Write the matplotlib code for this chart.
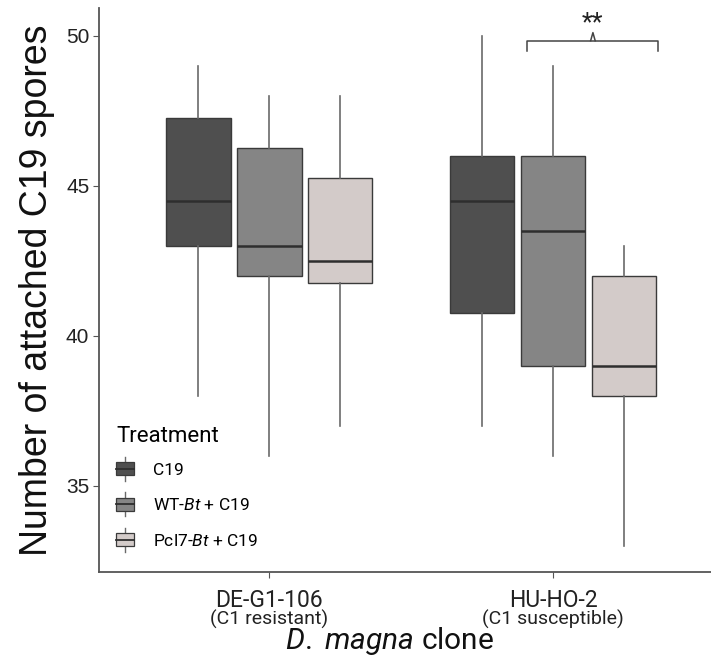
import matplotlib
matplotlib.use("Agg")
import matplotlib.pyplot as plt
from matplotlib.patches import Rectangle
from matplotlib.lines import Line2D
from matplotlib.legend_handler import HandlerBase
from matplotlib.transforms import blended_transform_factory

plt.rcParams['font.family'] = ['Roboto', 'DejaVu Sans']
plt.rcParams['mathtext.fontset'] = 'custom'
plt.rcParams['mathtext.rm'] = 'Roboto'
plt.rcParams['mathtext.it'] = 'Roboto:italic'

# ---- data ----
clones = ["DE-G1-106", "HU-HO-2"]
clone_notes = ["(C1 resistant)", "(C1 susceptible)"]
treatments = ["C19", "WT-Bt + C19", "Pcl7-Bt + C19"]
treatment_labels = ["C19", "WT-$\\it{Bt}$ + C19", "Pcl7-$\\it{Bt}$ + C19"]
colors = ["#4f4f4f", "#858585", "#d3cbc9"]

# per clone, per treatment
whislo = [[38, 36, 37], [37, 36, 33]]
q1 = [[43, 42, 41.75], [40.75, 39, 38]]
med = [[44.5, 43, 42.5], [44.5, 43.5, 39]]
q3 = [[47.25, 46.25, 45.25], [46, 46, 42]]
whishi = [[49, 48, 48], [50, 49, 43]]

sig_label = "**"

fig = plt.figure(figsize=(7.11, 6.62), dpi=100)
ax = fig.add_axes([99/711, 90/662, 1 - 99/711, (572-8)/662])

dodge = 0.25
bw = 0.227
for ci in range(len(clones)):
    for ti in range(len(treatments)):
        stats = [dict(med=med[ci][ti], q1=q1[ci][ti], q3=q3[ci][ti],
                      whislo=whislo[ci][ti], whishi=whishi[ci][ti], fliers=[])]
        pos = ci + 1 + (ti - 1) * dodge
        ax.bxp(stats, positions=[pos], widths=bw, patch_artist=True,
               showcaps=False, showfliers=False,
               boxprops=dict(facecolor=colors[ti], edgecolor="#3a3a3a", linewidth=1.0),
               whiskerprops=dict(color="#6a6a6a", linewidth=1.2),
               medianprops=dict(color="#2e2e2e", linewidth=1.8),
               manage_ticks=False, zorder=2)

ax.set_xlim(0.4, 2.556)
ax.set_ylim(32.13, 50.92)
ax.set_yticks([35, 40, 45, 50])
ax.set_yticklabels(["35", "40", "45", "50"], fontsize=15, family=['Liberation Sans', 'DejaVu Sans'], color="#222222")
ax.set_xticks([1, 2])
ax.set_xticklabels(clones, fontsize=16.5, color="#222222")
ax.tick_params(axis='y', length=4, width=0.8, color="#555555", pad=3)
ax.tick_params(axis='x', length=4, width=0.8, color="#555555", pad=8)
for sp in ["top", "right"]:
    ax.spines[sp].set_visible(False)
for sp in ["left", "bottom"]:
    ax.spines[sp].set_color("#555555")
    ax.spines[sp].set_linewidth(1.3)

trans = blended_transform_factory(ax.transData, ax.transAxes)
for i, note in enumerate(clone_notes):
    ax.text(i + 1, -(619.5 - 572) / 564, note, transform=trans, ha="center", va="center",
            fontsize=14, color="#222222")

ax.text((390 - 99) / 612, -(641 - 572) / 564, "$\\it{D.}$ $\\it{magna}$ clone",
        transform=ax.transAxes, ha="center", va="center", fontsize=21.5, color="#111111")
ax.set_ylabel("Number of attached C19 spores", fontsize=27, labelpad=8,
              family=['Liberation Sans', 'DejaVu Sans'], color="#111111")

# significance bracket
bx = [1.908, 2.37]
by = 49.83
ax.plot([bx[0], bx[0], bx[1], bx[1]], [49.5, by, by, 49.5], color="#444444", lw=1.1, zorder=3)
tip = 2.14
ax.plot([tip - 0.008, tip, tip + 0.008], [by, 50.1, by], color="#444444", lw=1.1, zorder=3)
ax.text(tip, 50.42, sig_label, ha="center", va="center", fontsize=18, color="#222222")


class BoxHandler(HandlerBase):
    def create_artists(self, legend, orig_handle, xdescent, ydescent, width, height, fontsize, trans):
        x0, y0 = -xdescent, -ydescent
        cx = x0 + width / 2
        fc = orig_handle.get_facecolor()
        wl = Line2D([cx, cx], [y0 - 0.4 * height, y0 + 1.4 * height], color="#6a6a6a", lw=1.0, transform=trans)
        r = Rectangle((x0, y0), width, height, facecolor=fc, edgecolor="#3a3a3a", lw=0.9, transform=trans)
        m = Line2D([x0, x0 + width], [y0 + height / 2] * 2, color="#2e2e2e", lw=1.3, transform=trans)
        return [wl, r, m]


handles = [Rectangle((0, 0), 1, 1, facecolor=c) for c in colors]
leg = ax.legend(handles, treatment_labels, title="Treatment", loc="lower left",
                bbox_to_anchor=(0.0, 0.0105), frameon=False, fontsize=12.5,
                title_fontsize=16, handler_map={Rectangle: BoxHandler()},
                handlelength=1.0, handleheight=0.8, labelspacing=1.12,
                handletextpad=1.1, borderaxespad=0.6)
leg._legend_box.align = "left"
leg._legend_box.sep = 11

fig.savefig("out.png", dpi=100)
